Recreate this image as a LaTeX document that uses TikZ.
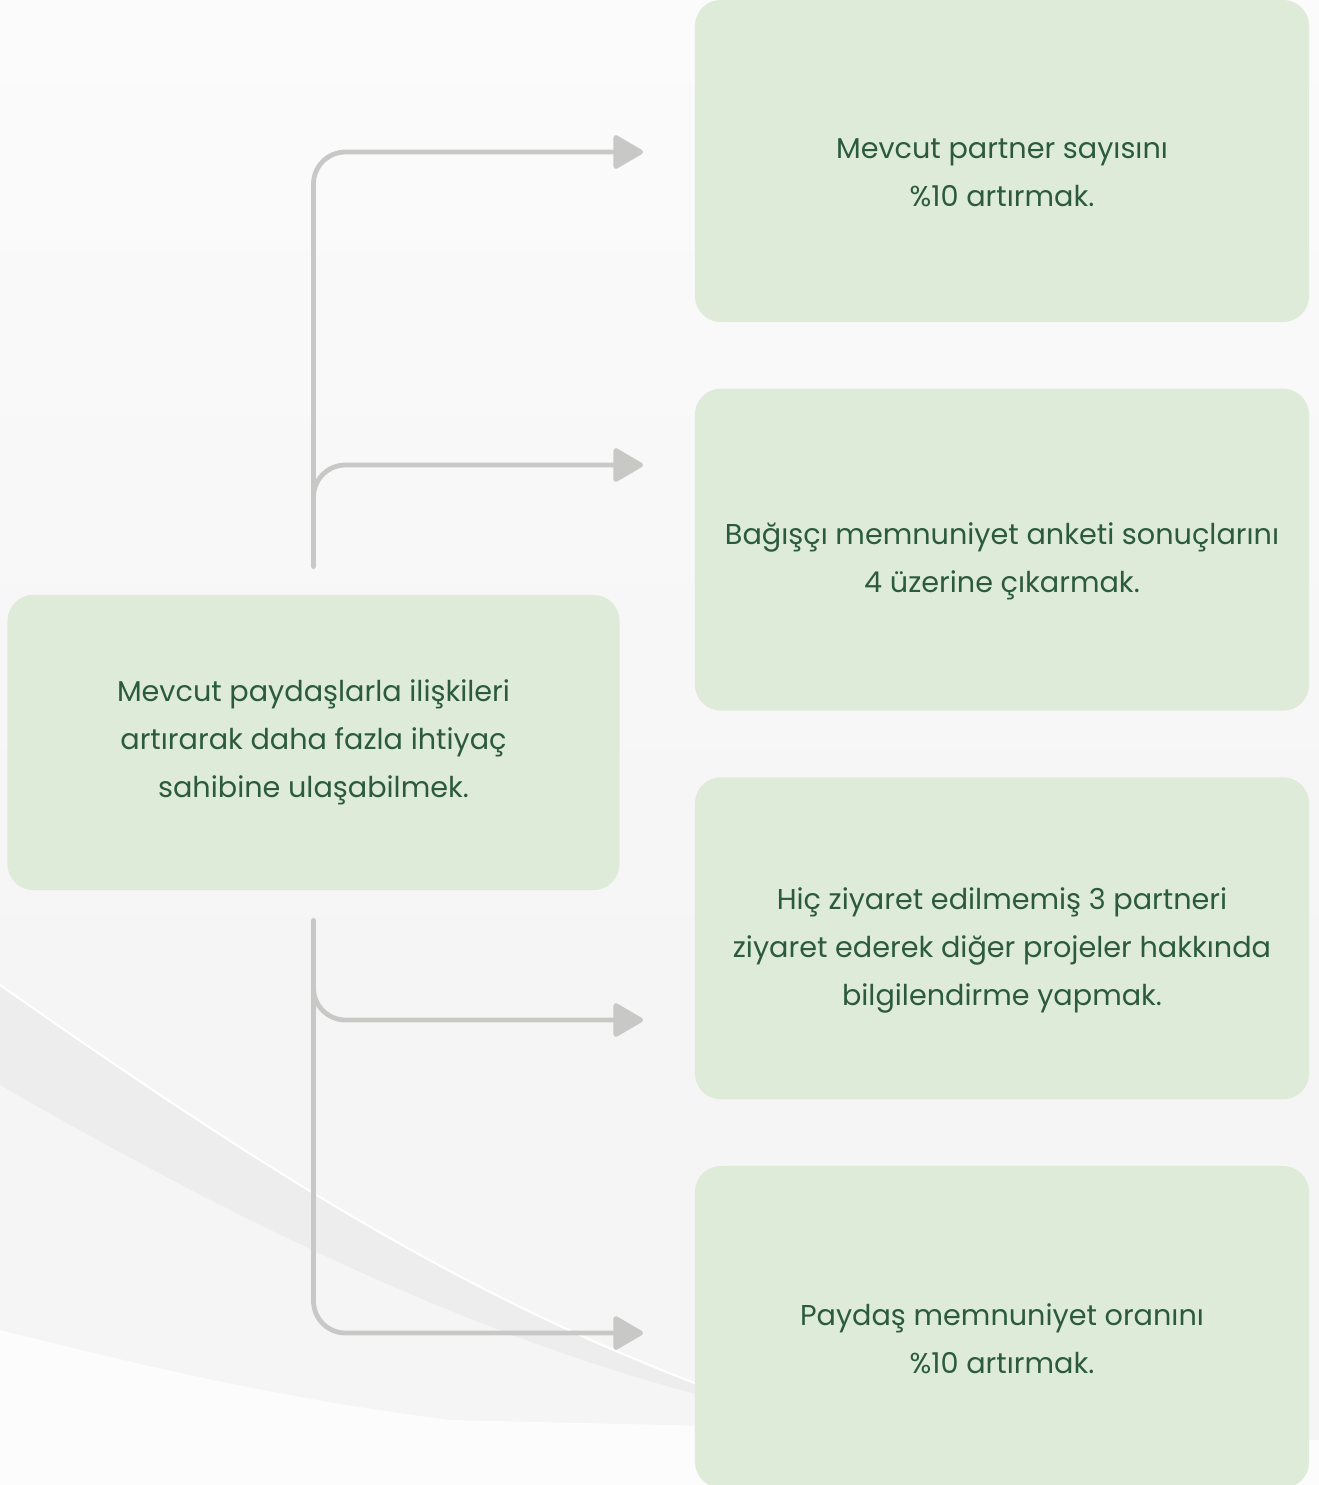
\documentclass[tikz,border=0pt]{standalone}
\usepackage{fontspec}
\setmainfont{Poppins}
\usetikzlibrary{arrows.meta,positioning}
\definecolor{boxgreen}{HTML}{DFEBD9}
\definecolor{textgreen}{HTML}{2C5B3C}
\definecolor{linegray}{HTML}{C8C8C6}
\definecolor{bgband}{HTML}{EDEDED}
\definecolor{bglight}{HTML}{F5F5F5}

\begin{document}
\begin{tikzpicture}[
  x=0.025cm, y=-0.025cm,
  node distance=1.65cm,
  goaltext/.style={align=center, text=textgreen, font=\fontsize{20.4}{34}\selectfont, inner sep=0pt},
  mainbox/.style={goaltext, rectangle, fill=boxgreen, rounded corners=0.65cm, minimum width=15.3cm, minimum height=7.38cm},
  goal/.style={rectangle, fill=boxgreen, rounded corners=0.65cm, minimum width=15.35cm, minimum height=8.05cm,
    inner sep=0pt, label={[goaltext, yshift=-0.3cm]center:#1}},
  conn/.style={draw=linegray, line width=0.12cm, line cap=round, rounded corners=0.8cm,
    -{Triangle[length=0.8cm, width=0.9cm, round]}}
]

% background
\useasboundingbox (0,0) rectangle (1319,1485);
\shade[top color=white!60!bglight, bottom color=bglight] (0,0) rectangle (1319,1000);
\fill[bglight] (0,1000) rectangle (1319,1485);
\fill[bgband] (0,985) .. controls (250,1160) and (450,1290) .. (700,1385)
  -- (700,1395) .. controls (450,1330) and (200,1200) .. (0,1085) -- cycle;
\draw[white, line width=0.05cm] (0,985) .. controls (250,1160) and (450,1290) .. (700,1385);
\fill[white!70!bglight] (0,1330) .. controls (200,1380) and (300,1400) .. (450,1420) -- (1319,1440) -- (1319,1485) -- (0,1485) -- cycle;

% boxes
\node[mainbox] (main) at (313.5,742.5)
  {Mevcut paydaşlarla ilişkileri\\artırarak daha fazla ihtiyaç\\sahibine ulaşabilmek.};
\node[goal={Mevcut partner sayısını\\\%10 artırmak.}] (b1) at (1002,161) {};
\node[goal={Bağışçı memnuniyet anketi sonuçlarını\\4 üzerine çıkarmak.}, below=of b1] (b2) {};
\node[goal={Hiç ziyaret edilmemiş 3 partneri\\ziyaret ederek diğer projeler hakkında\\bilgilendirme yapmak.}, below=of b2] (b3) {};
\node[goal={Paydaş memnuniyet oranını\\\%10 artırmak.}, below=of b3] (b4) {};

% arrow ends
\coordinate (a1) at (643,152);
\coordinate (a2) at (643,465);
\coordinate (a3) at (643,1020);
\coordinate (a4) at (643,1333);

\draw[conn] ([yshift=0.7cm]main.north) |- (a1);
\draw[conn] ([yshift=1.9cm]main.north) |- (a2);
\draw[conn] ([yshift=-0.75cm]main.south) |- (a4);
\draw[conn] ([yshift=-2cm]main.south) |- (a3);

\end{tikzpicture}
\end{document}
